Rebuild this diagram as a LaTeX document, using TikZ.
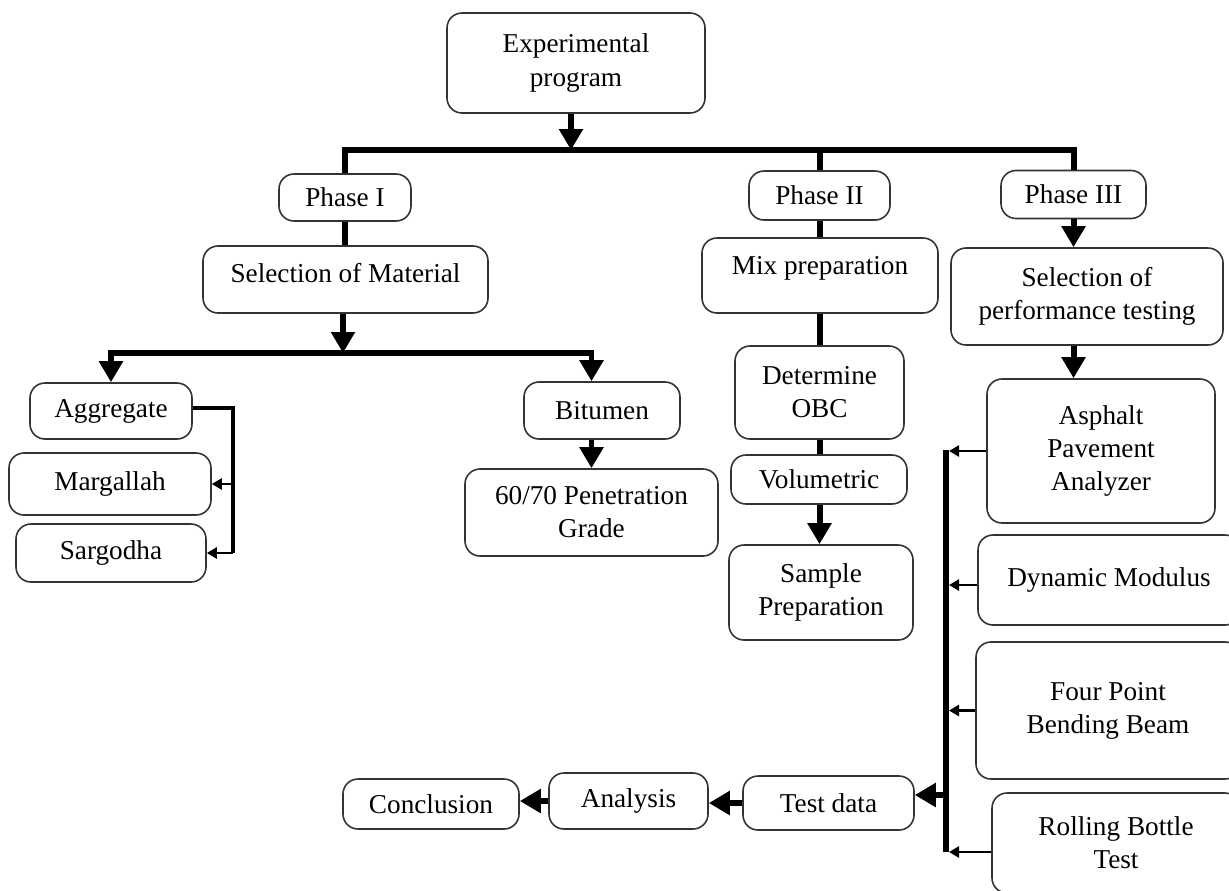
\documentclass[tikz,border=0pt]{standalone}
\usepackage{fontspec}
\setmainfont{Liberation Serif}
\usetikzlibrary{arrows.meta}
\tikzset{
  box/.style={draw=black!80, line width=0.9pt, rounded corners=0.3cm, align=center, inner sep=0pt, font=\fontsize{15.5}{18.8}\selectfont},
  sz/.style n args={2}{minimum width={#1*0.02cm}, minimum height={#2*0.02cm}},
  txt/.style={align=center, inner sep=0pt, font=\fontsize{15.5}{18.8}\selectfont},
  bigline/.style={line width=3.4pt},
  bigarrow/.style={line width=3.4pt, -{Triangle[length=0.42cm,width=0.46cm]}},
  smallarrow/.style={line width=1.6pt, -{Triangle[length=0.2cm,width=0.22cm]}},
}
\begin{document}
\begin{tikzpicture}[x=0.02cm,y=-0.02cm]
\useasboundingbox (0,0) rectangle (1229,890);

% nodes
\node[box, sz={258}{100}] (exp) at (576,63) {Experimental\\program};
\node[box, sz={132}{47}] (p1) at (345,197.5) {Phase I};
\node[box, sz={141}{49}] (p2) at (819.5,195.5) {Phase II};
\node[box, sz={145}{48}] (p3) at (1073.5,194.5) {Phase III};
\node[box, sz={285}{67}] (selmat) at (345.5,279.5) {};
\node[txt] (selmatt) at (345.5,273) {Selection of Material};
\node[box, sz={236}{75}] (mix) at (820,275.5) {};
\node[txt] (mixt) at (820,268) {Mix preparation};
\node[box, sz={272}{97}] (selperf) at (1087,296.5) {Selection of\\performance testing};
\node[box, sz={162}{56}] (agg) at (111,411) {Aggregate};
\node[box, sz={202}{62}] (marg) at (110,484) {Margallah};
\node[box, sz={190}{58}] (sarg) at (111,553) {Sargodha};
\node[box, sz={156}{57}] (bit) at (602,410.5) {Bitumen};
\node[box, sz={253}{87}] (pen) at (591.5,512.5) {60/70 Penetration\\Grade};
\node[box, sz={169}{93}] (obc) at (819.5,392.5) {Determine\\OBC};
\node[box, sz={176}{49}] (vol) at (819,479.5) {Volumetric};
\node[box, sz={184}{95}] (samp) at (821,592.5) {Sample\\Preparation};
\node[box, sz={228}{144}] (apa) at (1101,451) {Asphalt\\Pavement\\Analyzer};
\node[box, sz={262}{90}] (dyn) at (1109,580) {Dynamic Modulus};
\node[box, sz={264}{137}] (fpb) at (1108,710.5) {Four Point\\Bending Beam};
\node[box, sz={248}{100}] (rbt) at (1116,843) {Rolling Bottle\\Test};
\node[box, sz={171}{54}] (test) at (828.5,803) {Test data};
\node[box, sz={159}{56}] (ana) at (628.5,801) {Analysis};
\node[box, sz={176}{50}] (conc) at (431,804) {Conclusion};

% coordinates
\coordinate (bar) at (571,150);
\coordinate (b2) at (343,353);
\coordinate (ac) at (233,408);
\coordinate (bt) at (946,450);
\coordinate (bb) at (946,852);
\coordinate (bm) at (946,795);

% top level
\draw[bigarrow] (exp.south -| bar) -- (bar);
\draw[bigline] (p1.north) -- (p1.north |- bar) -- (p3.north |- bar) -- (p3.north);
\draw[bigline] (p2.north |- bar) -- (p2.north);

% phase I
\draw[bigline] (p1.south) -- (p1.south |- selmat.north);
\draw[bigarrow] (selmat.south -| b2) -- (b2);
\draw[bigarrow] (b2) -| (agg.north);
\draw[bigarrow] (b2) -| (bit.north -| pen.north);
\draw[bigarrow] (pen.north |- bit.south) -- (pen.north);
\draw[line width=2.6pt] (agg.east |- ac) -- (ac) -- (ac |- sarg.east);
\draw[smallarrow] (ac |- marg.east) -- (marg.east);
\draw[smallarrow] (ac |- sarg.east) -- (sarg.east);

% phase II
\draw[bigline] (p2.south) -- (p2.south |- mix.north);
\draw[bigline] (mix.south -| p2.south) -- (obc.north -| p2.south);
\draw[bigline] (obc.south -| p2.south) -- (vol.north -| p2.south);
\draw[bigarrow] (vol.south -| p2.south) -- (samp.north -| p2.south);

% phase III
\draw[bigarrow] (p3.south) -- (p3.south |- selperf.north);
\draw[bigarrow] (selperf.south -| p3.south) -- (apa.north -| p3.south);
\draw[bigline] (bt) -- (bb);
\draw[smallarrow] (apa.west) -- ([xshift=0.06cm]apa.west -| bt);
\draw[smallarrow] ([yshift=-0.1cm]dyn.west) -- ([xshift=0.06cm,yshift=-0.1cm]dyn.west -| bt);
\draw[smallarrow] (fpb.west) -- ([xshift=0.06cm]fpb.west -| bt);
\draw[smallarrow] (rbt.west |- bb) -- ([xshift=0.06cm]bb);
\draw[bigarrow] (bm) -- (bm -| test.east);

% bottom
\draw[bigarrow] (test.west) -- (test.west -| ana.east);
\draw[bigarrow] (ana.west) -- (ana.west -| conc.east);
\end{tikzpicture}
\end{document}
